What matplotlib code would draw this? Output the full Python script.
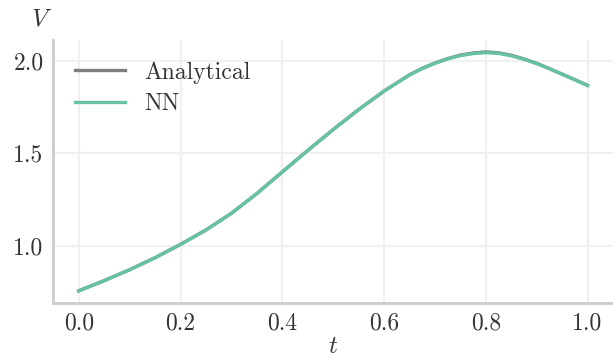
import matplotlib
matplotlib.use("Agg")
import matplotlib.pyplot as plt

# values
t = [0.00, 0.05, 0.10, 0.15, 0.20, 0.25, 0.30, 0.35, 0.40, 0.45, 0.50, 0.55, 0.60,
     0.65, 0.675, 0.70, 0.725, 0.75, 0.775, 0.80, 0.825, 0.85, 0.875, 0.90,
     0.925, 0.95, 0.975, 1.00]
v_analytical = [0.756, 0.811, 0.870, 0.935, 1.007, 1.085, 1.175, 1.282, 1.399, 1.515, 1.628, 1.736, 1.836,
                1.924, 1.959, 1.988, 2.012, 2.031, 2.042, 2.048, 2.043, 2.030, 2.010, 1.986,
                1.958, 1.928, 1.898, 1.867]
v_nn = [0.756, 0.811, 0.870, 0.935, 1.007, 1.085, 1.175, 1.282, 1.399, 1.515, 1.628, 1.736, 1.836,
        1.923, 1.958, 1.986, 2.010, 2.028, 2.039, 2.044, 2.040, 2.027, 2.008, 1.985,
        1.957, 1.927, 1.897, 1.866]

plt.rcParams['font.family'] = 'serif'
plt.rcParams['font.serif'] = ['cmr10']
plt.rcParams['mathtext.fontset'] = 'cm'
plt.rcParams['axes.formatter.use_mathtext'] = True
plt.rcParams['axes.unicode_minus'] = False

fig = plt.figure(figsize=(6.13, 3.6), dpi=100)
ax = fig.add_axes([0.087, 0.159, 0.913, 0.73])

ax.plot(t, v_analytical, color='#7f7f7f', lw=2.4, label='Analytical')
ax.plot(t, v_nn, color='#66c2a5', lw=2.4, label='NN')

ax.set_xticks([0.0, 0.2, 0.4, 0.6, 0.8, 1.0])
ax.set_yticks([1.0, 1.5, 2.0])
ax.set_xticklabels(['0.0', '0.2', '0.4', '0.6', '0.8', '1.0'])
ax.set_yticklabels(['1.0', '1.5', '2.0'])
ax.tick_params(length=0, labelsize=17, labelcolor='#333333', pad=7)

ax.grid(True, color='#f0f0f0', lw=1.5)
ax.set_axisbelow(True)
for side in ['top', 'right']:
    ax.spines[side].set_visible(False)
for side in ['left', 'bottom']:
    ax.spines[side].set_color('#cccccc')
    ax.spines[side].set_linewidth(2)

ax.set_xlabel('$t$', fontsize=18, color='#333333', labelpad=1)
ax.set_ylabel('$V$', fontsize=18, color='#333333', rotation=0)
ax.yaxis.set_label_coords(-0.02, 1.035)

ax.legend(loc='upper left', frameon=False, fontsize=17, handlelength=2.15,
          labelcolor='#333333', borderaxespad=0.5, labelspacing=0.4)

fig.savefig('out.png', dpi=100)
